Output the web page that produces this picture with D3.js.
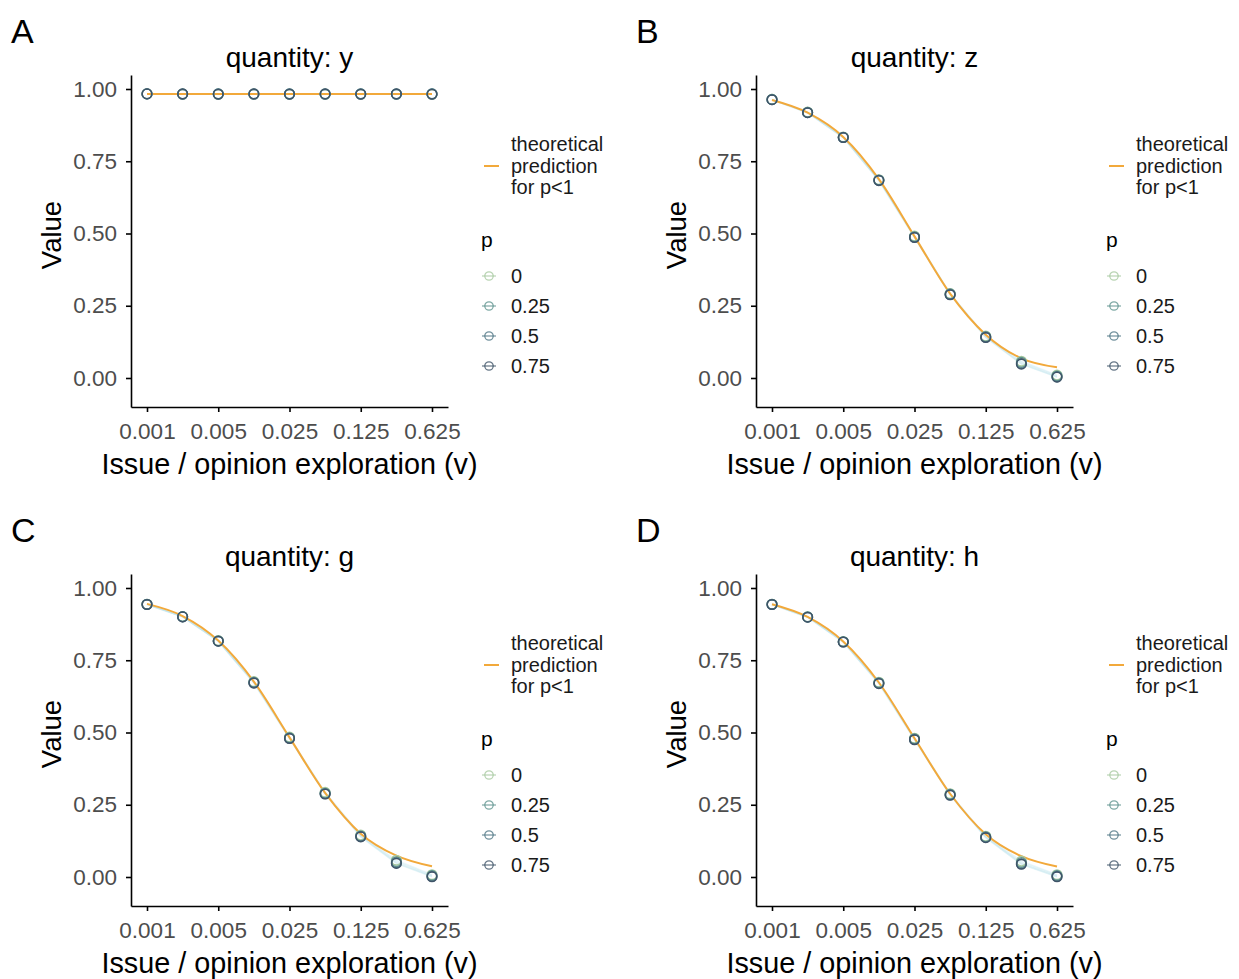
<!DOCTYPE html>
<html>
<head>
<meta charset="utf-8">
<script src="https://cdn.jsdelivr.net/npm/d3@7"></script>
<style>
  body { margin: 0; background: #ffffff; }
  svg text { font-family: "Liberation Sans", Arial, Helvetica, sans-serif; }
</style>
</head>
<body>
<div id="chart"></div>
<script>
// exploration rates (v) where the simulations were run
const vSteps = [0.001, 0.002236, 0.005, 0.01118, 0.025, 0.0559, 0.125, 0.2795, 0.625];
const xTicks = [0.001, 0.005, 0.025, 0.125, 0.625];
const yTicks = [0, 0.25, 0.5, 0.75, 1];
const pLevels = ["0", "0.25", "0.5", "0.75"];
const pColors = ["#a8c9a0", "#5f948e", "#4f7584", "#3f5468"];
const quantities = ["y", "z", "g", "h"];
const panelLetters = ["A", "B", "C", "D"];

// theoretical prediction for p<1, one curve per quantity
const theoryY = [0.983, 0.983, 0.983, 0.983, 0.983, 0.983, 0.983, 0.983, 0.983];
const theoryZ = [0.962, 0.918, 0.834, 0.688, 0.490, 0.292, 0.150, 0.068, 0.037];
const theoryG = [0.945, 0.903, 0.818, 0.676, 0.483, 0.291, 0.150, 0.074, 0.037];
const theoryH = [0.944, 0.900, 0.815, 0.673, 0.480, 0.288, 0.148, 0.072, 0.036];

// simulated values, one row per p level (0, 0.25, 0.5, 0.75)
const simY = [
  [0.983, 0.982, 0.982, 0.982, 0.982, 0.982, 0.982, 0.982, 0.982],
  [0.983, 0.983, 0.983, 0.983, 0.983, 0.983, 0.983, 0.983, 0.983],
  [0.983, 0.982, 0.983, 0.982, 0.983, 0.982, 0.983, 0.982, 0.983],
  [0.983, 0.983, 0.982, 0.983, 0.982, 0.983, 0.982, 0.983, 0.982]
];
const simZ = [
  [0.964, 0.920, 0.834, 0.686, 0.491, 0.292, 0.145, 0.058, 0.010],
  [0.964, 0.919, 0.833, 0.685, 0.489, 0.291, 0.143, 0.054, 0.007],
  [0.963, 0.918, 0.832, 0.684, 0.487, 0.289, 0.141, 0.050, 0.004],
  [0.963, 0.918, 0.832, 0.683, 0.486, 0.288, 0.140, 0.048, 0.003]
];
const simG = [
  [0.944, 0.901, 0.818, 0.676, 0.484, 0.293, 0.145, 0.058, 0.008],
  [0.944, 0.901, 0.817, 0.674, 0.482, 0.290, 0.142, 0.053, 0.005],
  [0.943, 0.900, 0.816, 0.672, 0.480, 0.288, 0.140, 0.049, 0.002],
  [0.943, 0.900, 0.816, 0.671, 0.479, 0.287, 0.139, 0.047, 0.001]
];
const simH = [
  [0.944, 0.900, 0.815, 0.674, 0.480, 0.288, 0.141, 0.055, 0.008],
  [0.944, 0.900, 0.814, 0.672, 0.478, 0.286, 0.139, 0.050, 0.005],
  [0.943, 0.899, 0.813, 0.670, 0.476, 0.284, 0.137, 0.046, 0.002],
  [0.943, 0.899, 0.813, 0.669, 0.475, 0.283, 0.136, 0.044, 0.001]
];

const theory = [theoryY, theoryZ, theoryG, theoryH];
const sims = [simY, simZ, simG, simH];

const W = 1239, H = 979;
const svg = d3.select("#chart").append("svg")
  .attr("width", W)
  .attr("height", H);

// panel frame (local coordinates)
const plotLeft = 131, plotRight = 448, plotTop = 75, plotBottom = 407;

// data positions: 0.001 -> 147, 0.625 -> 432, 0 -> 378, 1 -> 89 ; expanded to the panel edges
const xBase = d3.scaleLog().domain([0.001, 0.625]).range([147, 432]);
const yBase = d3.scaleLinear().domain([0, 1]).range([378, 89]);
const xScale = d3.scaleLog()
  .domain([xBase.invert(plotLeft), xBase.invert(plotRight)])
  .range([plotLeft, plotRight]);
const yScale = d3.scaleLinear()
  .domain([yBase.invert(plotBottom), yBase.invert(plotTop)])
  .range([plotBottom, plotTop]);

const panelOffsets = [[0, 0], [625, 0], [0, 499], [625, 499]];

quantities.forEach((q, qi) => {
  const g = svg.append("g")
    .attr("transform", `translate(${panelOffsets[qi][0]},${panelOffsets[qi][1]})`);

  // panel letter
  g.append("text")
    .attr("x", 11).attr("y", 43)
    .attr("font-size", 34)
    .attr("fill", "#000")
    .text(panelLetters[qi]);

  // title
  g.append("text")
    .attr("x", (plotLeft + plotRight) / 2).attr("y", 67)
    .attr("text-anchor", "middle")
    .attr("font-size", 28)
    .attr("fill", "#000")
    .text(`quantity: ${q}`);

  // faint simulation lines per p
  const simLine = d3.line()
    .x((d, i) => xScale(vSteps[i]))
    .y(d => yScale(d));
  sims[qi].forEach((row, pi) => {
    g.append("path")
      .attr("d", simLine(row))
      .attr("fill", "none")
      .attr("stroke", "#a6dbe9")
      .attr("stroke-opacity", 0.25)
      .attr("stroke-width", 1.5);
  });

  // theoretical prediction
  const theoryLine = d3.line()
    .x((d, i) => xScale(vSteps[i]))
    .y(d => yScale(d))
    .curve(d3.curveMonotoneX);
  g.append("path")
    .attr("d", theoryLine(theory[qi]))
    .attr("fill", "none")
    .attr("stroke", "#f2a93b")
    .attr("stroke-width", 2);

  // simulated points
  sims[qi].forEach((row, pi) => {
    g.selectAll(`circle.p${pi}`)
      .data(row)
      .enter()
      .append("circle")
      .attr("class", `p${pi}`)
      .attr("cx", (d, i) => xScale(vSteps[i]))
      .attr("cy", d => yScale(d))
      .attr("r", 4.8)
      .attr("fill", "none")
      .attr("stroke", pColors[pi])
      .attr("stroke-width", 1.5);
  });

  // axes
  const xAxis = d3.axisBottom(xScale)
    .tickValues(xTicks)
    .tickFormat(d => String(d))
    .tickSize(5)
    .tickPadding(11)
    .tickSizeOuter(0);
  const xg = g.append("g")
    .attr("transform", `translate(0,${plotBottom})`)
    .call(xAxis);

  const yAxis = d3.axisLeft(yScale)
    .tickValues(yTicks)
    .tickFormat(d3.format(".2f"))
    .tickSize(5)
    .tickPadding(9)
    .tickSizeOuter(0);
  const yg = g.append("g")
    .attr("transform", `translate(${plotLeft},0)`)
    .call(yAxis);

  [xg, yg].forEach(ax => {
    ax.select(".domain").attr("stroke", "#000").attr("stroke-width", 1.6);
    ax.selectAll(".tick line").attr("stroke", "#000").attr("stroke-width", 1.6);
    ax.selectAll(".tick text")
      .attr("fill", "#4d4d4d")
      .attr("font-size", 22.5)
      .attr("font-family", "\"Liberation Sans\", Arial, sans-serif");
  });

  // axis titles
  g.append("text")
    .attr("x", (plotLeft + plotRight) / 2).attr("y", 474)
    .attr("text-anchor", "middle")
    .attr("font-size", 28.8)
    .attr("fill", "#000")
    .text("Issue / opinion exploration (v)");

  g.append("text")
    .attr("transform", `translate(61,235) rotate(-90)`)
    .attr("text-anchor", "middle")
    .attr("font-size", 27.5)
    .attr("fill", "#000")
    .text("Value");

  // legend: theoretical prediction
  const lg = g.append("g");
  lg.append("line")
    .attr("x1", 484).attr("x2", 499)
    .attr("y1", 166).attr("y2", 166)
    .attr("stroke", "#f2a93b")
    .attr("stroke-width", 2);
  ["theoretical", "prediction", "for p<1"].forEach((t, i) => {
    lg.append("text")
      .attr("x", 511).attr("y", 151 + i * 21.5)
      .attr("font-size", 20)
      .attr("fill", "#1a1a1a")
      .text(t);
  });

  // legend: p levels
  lg.append("text")
    .attr("x", 481).attr("y", 247)
    .attr("font-size", 21)
    .attr("fill", "#000")
    .text("p");
  pLevels.forEach((p, pi) => {
    const cy = 276 + pi * 30;
    lg.append("line")
      .attr("x1", 482).attr("x2", 496)
      .attr("y1", cy).attr("y2", cy)
      .attr("stroke", pColors[pi])
      .attr("stroke-opacity", 0.8)
      .attr("stroke-width", 1.2);
    lg.append("circle")
      .attr("cx", 489).attr("cy", cy)
      .attr("r", 4.2)
      .attr("fill", "none")
      .attr("stroke", pColors[pi])
      .attr("stroke-opacity", 0.8)
      .attr("stroke-width", 1.3);
    lg.append("text")
      .attr("x", 511).attr("y", cy + 7)
      .attr("font-size", 20)
      .attr("fill", "#1a1a1a")
      .text(p);
  });
});
</script>
</body>
</html>
